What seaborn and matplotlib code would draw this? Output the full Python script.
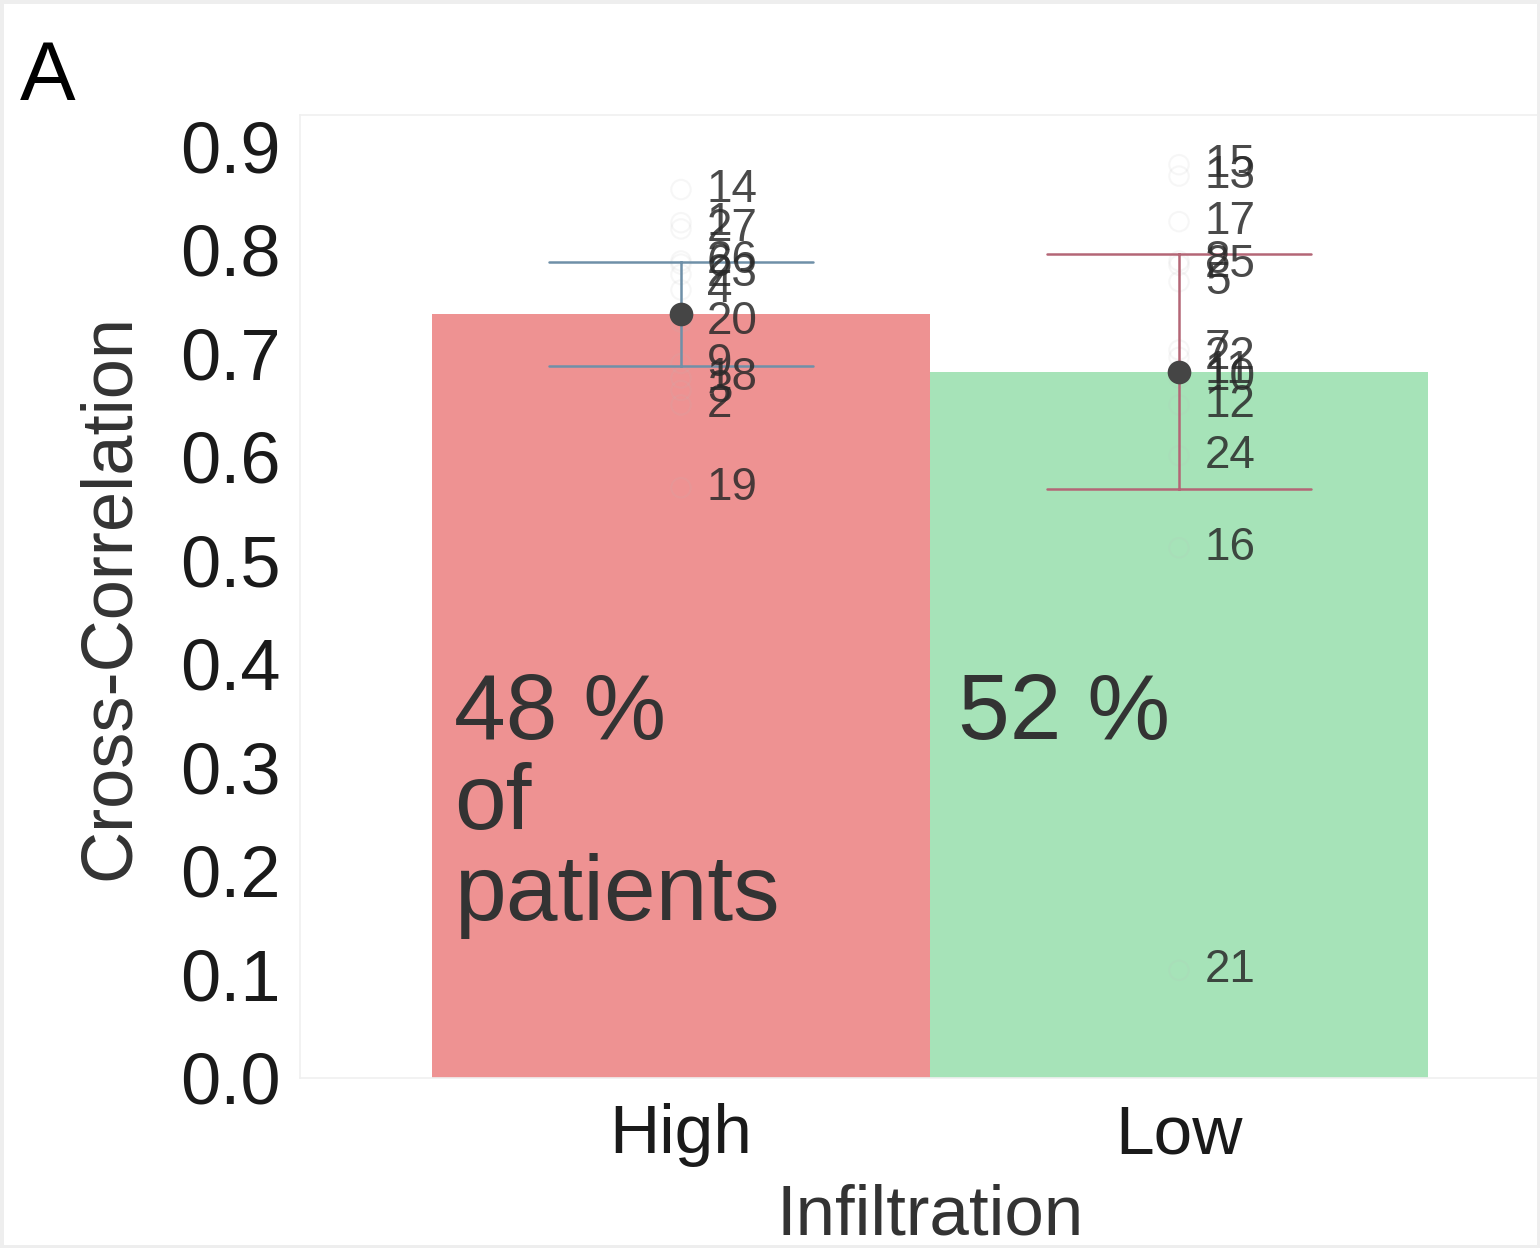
import numpy as np
import pandas as pd
import matplotlib
matplotlib.use("Agg")
import matplotlib.pyplot as plt
import seaborn as sns

# ---- data ----
categories = ["High", "Low"]
high_ids = [14, 1, 27, 26, 6, 23, 4, 20, 9, 18, 3, 2, 19]
high_vals = [0.858, 0.826, 0.820, 0.789, 0.786, 0.776, 0.761, 0.730, 0.690, 0.676, 0.664, 0.650, 0.570]
low_ids = [15, 13, 17, 8, 25, 5, 7, 22, 11, 10, 12, 24, 16, 21]
low_vals = [0.882, 0.871, 0.827, 0.789, 0.785, 0.769, 0.703, 0.696, 0.683, 0.676, 0.650, 0.601, 0.512, 0.104]
pct_labels = ["48 %\nof\npatients", "52 %"]
bar_colors = ["#EE9292", "#A6E3B8"]
err_colors = ["#6F90A8", "#B46676"]

df = pd.DataFrame({
    "Infiltration": ["High"] * len(high_vals) + ["Low"] * len(low_vals),
    "Cross-Correlation": high_vals + low_vals,
    "Patient": high_ids + low_ids,
})

sns.set_theme(style="white")
plt.rcParams["font.family"] = ["Liberation Sans", "DejaVu Sans"]

fig = plt.figure(figsize=(15.4, 12.48), dpi=100)
fig.patch.set_facecolor("white")
ax = fig.add_axes([300 / 1540, 1 - 1078 / 1248, 1260 / 1540, (1078 - 115) / 1248])

sns.barplot(data=df, x="Infiltration", y="Cross-Correlation", order=categories,
            hue="Infiltration", palette=bar_colors, errorbar=None, width=1.0,
            legend=False, ax=ax, linewidth=0, saturation=1)

sns.stripplot(data=df, x="Infiltration", y="Cross-Correlation", order=categories,
              jitter=False, color="#aaaaaa", facecolors="none", edgecolor="#bbbbbb",
              linewidth=1.5, size=14, alpha=0.12, ax=ax, zorder=3)

sns.pointplot(data=df, x="Infiltration", y="Cross-Correlation", order=categories,
              hue="Infiltration", palette=err_colors, errorbar=("se", 2.17),
              capsize=0.53, marker="", linestyle="none", legend=False,
              err_kws={"linewidth": 1.8}, ax=ax, zorder=4)

sns.pointplot(data=df, x="Infiltration", y="Cross-Correlation", order=categories,
              color="#454545", errorbar=None, marker="o", markersize=15,
              linestyle="none", ax=ax, zorder=5)

# patient labels
for _, r in df.iterrows():
    xi = categories.index(r["Infiltration"])
    ax.text(xi + 0.052, r["Cross-Correlation"], str(r["Patient"]),
            fontsize=33, color="#2a2a2a", alpha=0.85, va="center", ha="left", zorder=6)

# percentage annotations
ax.text(-0.455, 0.327, "48 %", fontsize=67, color="#333333", va="baseline", ha="left", zorder=6)
ax.text(-0.455, 0.240, "of", fontsize=67, color="#333333", va="baseline", ha="left", zorder=6)
ax.text(-0.455, 0.153, "patients", fontsize=67, color="#333333", va="baseline", ha="left", zorder=6)
ax.text(0.556, 0.327, pct_labels[1], fontsize=67, color="#333333", va="baseline", ha="left", zorder=6)

ax.set_xlim(-0.765, 1.765)
ax.set_ylim(0, 0.930)
ax.set_yticks(np.arange(0, 0.91, 0.1))
ax.set_yticklabels([f"{v:.1f}" for v in np.arange(0, 0.91, 0.1)])
ax.tick_params(axis="y", labelsize=52, pad=14, length=0, colors="#1a1a1a")
ax.tick_params(axis="x", labelsize=50, pad=18, length=0, colors="#1a1a1a")
ax.set_ylabel("Cross-Correlation", fontsize=52, color="#333333", labelpad=26)
ax.set_xlabel("Infiltration", fontsize=51, color="#333333", labelpad=12)
for s in ax.spines.values():
    s.set_color("#f0f0f0")
    s.set_linewidth(1.2)
ax.grid(False)

fig.text(20 / 1540, 1 - 100 / 1248, "A", fontsize=60, color="black", ha="left", va="baseline")

border = plt.Rectangle((0, 0), 1, 1, transform=fig.transFigure, fill=False,
                       edgecolor="#eeeeee", linewidth=5, zorder=10)
fig.patches.append(border)

fig.savefig("out.png", dpi=100)
